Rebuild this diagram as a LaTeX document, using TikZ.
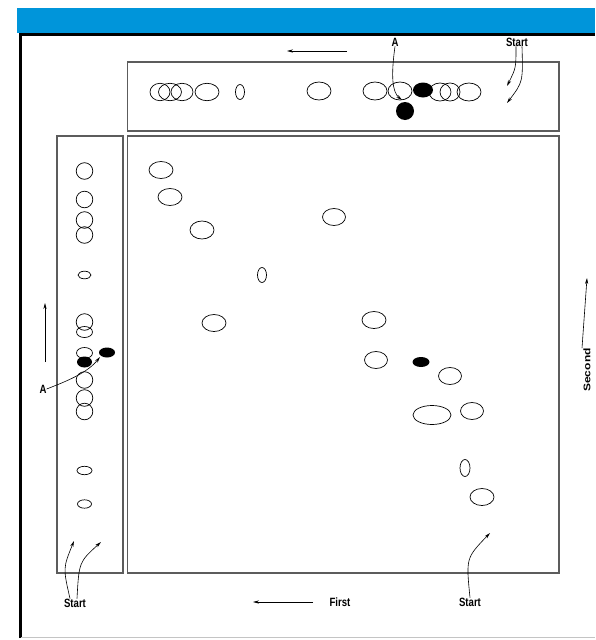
\documentclass[tikz,border=0pt]{standalone}
\usepackage{fontspec}
\setmainfont{Liberation Sans}
\usetikzlibrary{arrows.meta}
\definecolor{tlcband}{HTML}{0095DA}
\definecolor{tlcplate}{HTML}{5C5C5C}
\definecolor{tlcrule}{HTML}{C4C4C4}

\begin{document}
\begin{tikzpicture}[x=1pt,y=-1pt,
  tlclbl/.style={font=\fontsize{12}{13}\selectfont\bfseries,xscale=0.8,inner sep=0pt},
  tlcarr/.style={-{Stealth[length=6pt,width=3.2pt]},line width=0.6pt},
  tlcspot/.style={line width=0.7pt},
  tlcbox/.style={draw=tlcplate,line width=1.3pt}]
  \useasboundingbox (0,0) rectangle (595,640);
  \fill[tlcband] (17,8) rectangle (595,33);
  \draw[line width=3pt] (20,638) -- (20,34.5) -- (595,34.5);
  \draw[tlcrule,line width=1pt] (21,637.5) -- (595,637.5);
  \draw[tlcbox] (127.5,62) rectangle (559,131);
  \draw[tlcbox] (57,136) rectangle (123,573);
  \draw[tlcbox] (127.5,136) rectangle (559,573);
  % first run (top strip)
  \foreach \x/\y/\a/\b in {160/92/10/8.7,170/92/11.5/8.7,182/92/11/8.7,207/92/12/8.7,
    240/92/4.5/7.5,319/91/12/9,375/91/12/9,400/91/12/9,440/92/11/9,450/92/10/9,469/92/12/9}
    {\draw[tlcspot] (\x,\y) ellipse [x radius=\a pt,y radius=\b pt];}
  \fill (423,90) ellipse [x radius=10pt,y radius=7.5pt];
  \fill (405,111) circle (9pt);
  % second run (left strip)
  \foreach \y/\a/\b in {171/8.3/8.3,199.5/8.3/8.3,220/8.3/8.3,235/8.3/8.3,275/6.5/3.8,
    322/8.3/8.3,332/8/5.5,353/8/5.5,380/8.3/8.3,398/8.3/8.3,411.5/8.3/8.3,470.5/7.5/4.2,504/7/4.2}
    {\draw[tlcspot] (84.5,\y) ellipse [x radius=\a pt,y radius=\b pt];}
  \fill (84.5,362) ellipse [x radius=7.5pt,y radius=5.5pt];
  \fill (107,352.5) ellipse [x radius=8pt,y radius=5pt];
  % two-dimensional map
  \foreach \x/\y/\a/\b in {161/170/12/8.5,170/197/12/8.5,202/230/12/9,334/217/11.5/8.5,
    262/275/4.5/7.5,214/323/12/8.5,374/320/12/8.5,376/360/11.5/8.5,450/376/11.5/8.5,
    432/415/19/9.5,472/411/11.5/8.5,465/468/5/8.5,482/497/12/8.5}
    {\draw[tlcspot] (\x,\y) ellipse [x radius=\a pt,y radius=\b pt];}
  \fill (421,362) ellipse [x radius=8.5pt,y radius=5pt];
  % labels
  \node[tlclbl] (topA) at (395,42) {A};
  \node[tlclbl] (topStart) at (517,42) {Start};
  \node[tlclbl] (leftA) at (43,389) {A};
  \node[tlclbl] (leftStart) at (75,603) {Start};
  \node[tlclbl] (first) at (340,602) {First};
  \node[tlclbl] (botStart) at (470,602) {Start};
  \node[tlclbl,rotate=90] (second) at (587,370) {Second};
  \coordinate (topAtip) at (402,100);
  \coordinate (topS1) at (507,86);
  \coordinate (topS2) at (507,103);
  \coordinate (leftAtip) at (100,357);
  \coordinate (leftS1) at (74,541);
  \coordinate (leftS2) at (101,542);
  \coordinate (botS) at (490,533);
  \coordinate (dirTopA) at (347,51);
  \coordinate (dirTopB) at (287,51);
  \coordinate (dirLeftA) at (45,362);
  \coordinate (dirLeftB) at (45,303);
  \coordinate (dirBotA) at (313,602);
  \coordinate (dirBotB) at (253,602);
  \coordinate (dirSecB) at (587,278);
  % arrows
  \draw[tlcarr] (topA.south) .. controls (391,75) and (392,92) .. (topAtip);
  \draw[tlcarr] ([xshift=-1pt]topStart.south) .. controls (516,68) .. (topS1);
  \draw[tlcarr] ([xshift=5pt]topStart.south) .. controls (523,82) .. (topS2);
  \draw[tlcarr] (leftA.east) .. controls (70,380) and (88,372) .. (leftAtip);
  \draw[tlcarr] ([xshift=-5pt]leftStart.north) .. controls (63,568) .. (leftS1);
  \draw[tlcarr] ([xshift=2pt]leftStart.north) .. controls (79,562) .. (leftS2);
  \draw[tlcarr] (botStart.north) .. controls (466,558) .. (botS);
  \draw[tlcarr] (dirTopA) -- (dirTopB);
  \draw[tlcarr] (dirLeftA) -- (dirLeftB);
  \draw[tlcarr] (dirBotA) -- (dirBotB);
  \draw[tlcarr] ([xshift=-5pt]second.east) -- (dirSecB);
\end{tikzpicture}
\end{document}
